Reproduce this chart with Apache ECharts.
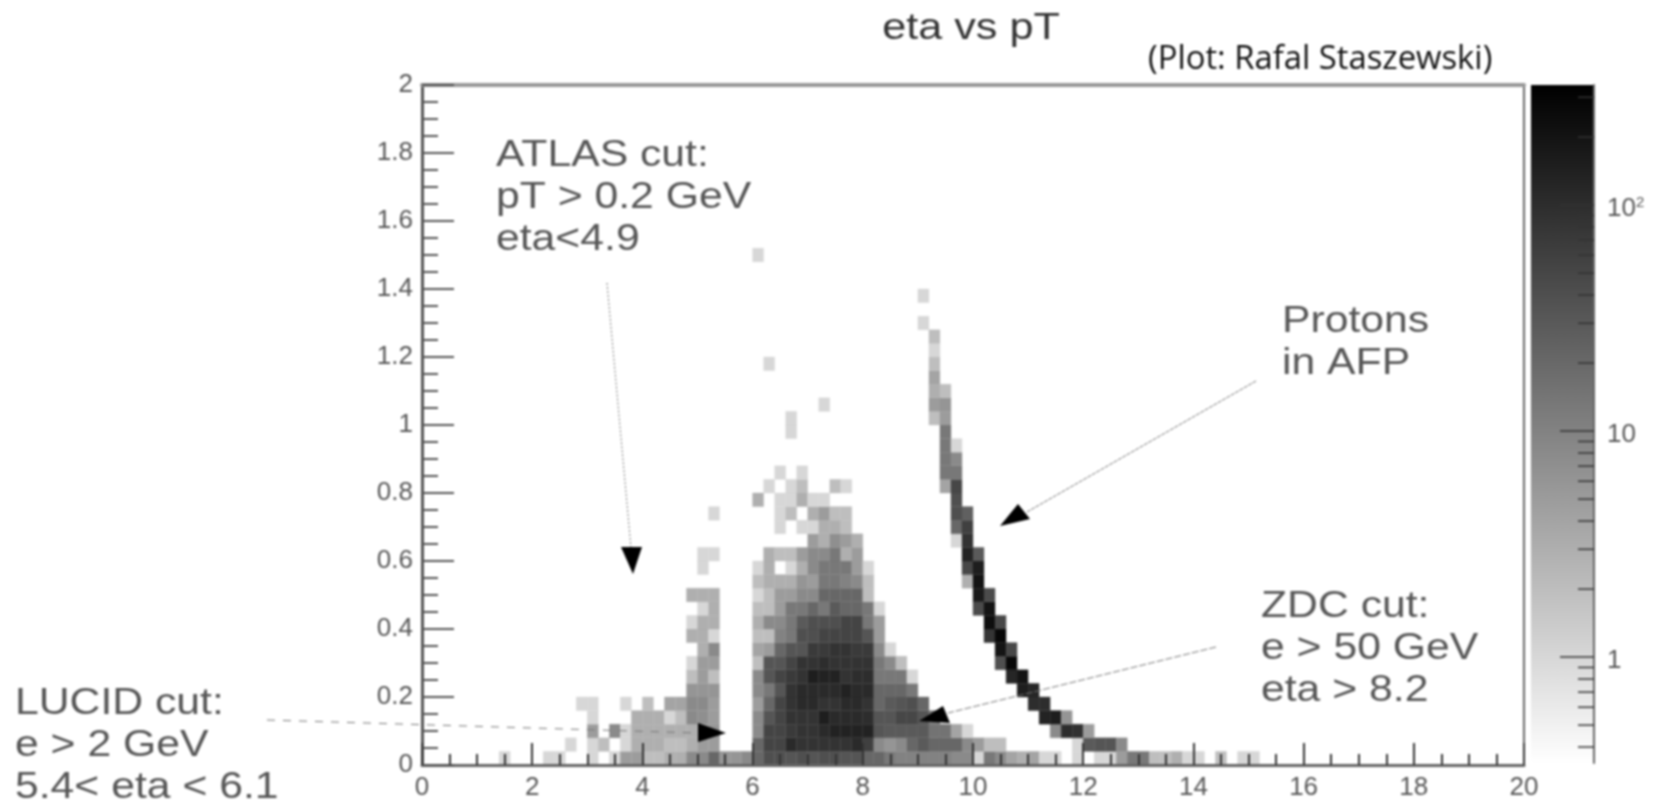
<!DOCTYPE html>
<html><head><meta charset="utf-8">
<style>html,body{margin:0;padding:0;background:#fff}#c{width:1658px;height:801px;filter:blur(0.8px)}</style>
<script src="https://cdn.jsdelivr.net/npm/echarts@6/dist/echarts.min.js"></script>
</head><body><div id="c"></div>
<script>
// Bin size of the 2D histogram
const binX = 0.2, binY = 0.04;
// Each row is one y-bin: pairs of [x-bin index, count]
const row00=[[7,1],[11,1],[12,1],[15,1],[17,1],[18,5],[19,5],[20,2],[21,2],[22,3],[23,3],[24,8],[25,8],[26,21],[27,6],[28,6],[29,8],[30,21],[31,40],[32,40],[33,34],[34,40],[35,34],[36,40],[37,40],[38,34],[39,34],[40,21],[41,21],[42,13],[43,10],[44,10],[45,10],[46,10],[47,10],[48,8],[49,8],[50,1],[51,13],[52,8],[53,4],[54,3],[55,4],[56,1],[57,1],[59,1],[61,1],[62,1],[63,5],[64,13],[65,13],[66,2],[67,2],[68,3],[69,1],[70,1],[72,2],[74,1],[75,1]];
const row01=[[13,1],[15,1],[16,2],[18,1],[19,3],[20,3],[21,3],[22,2],[23,2],[24,3],[25,5],[26,5],[30,21],[31,54],[32,54],[33,109],[34,85],[35,85],[36,85],[37,85],[38,85],[39,109],[40,60],[41,8],[42,6],[43,8],[44,21],[45,30],[46,21],[47,21],[48,21],[49,8],[50,5],[51,2],[52,2],[59,1],[60,30],[61,34],[62,34],[63,8]];
const row02=[[15,5],[17,8],[18,1],[19,3],[20,3],[21,3],[22,3],[23,3],[24,3],[25,5],[26,6],[30,8],[31,54],[32,54],[33,70],[34,85],[35,85],[36,109],[37,137],[38,137],[39,137],[40,137],[41,34],[42,30],[43,30],[44,30],[45,30],[46,15],[47,15],[48,4],[49,1],[57,8],[58,100],[59,90],[60,5]];
const row03=[[15,1],[19,3],[20,3],[21,3],[22,1],[23,2],[24,8],[25,7],[26,5],[30,8],[31,34],[32,54],[33,85],[34,85],[35,85],[36,151],[37,109],[38,109],[39,109],[40,100],[41,34],[42,34],[43,50],[44,50],[45,34],[46,13],[56,130],[57,150],[58,6]];
const row04=[[14,1],[15,1],[18,1],[20,2],[22,4],[23,4],[24,8],[25,8],[26,5],[30,5],[31,21],[32,54],[33,85],[34,109],[35,109],[36,85],[37,85],[38,109],[39,109],[40,85],[41,21],[42,30],[43,34],[44,40],[45,21],[55,100],[56,100]];
const row05=[[24,6],[25,6],[26,6],[30,8],[31,13],[32,34],[33,85],[34,109],[35,109],[36,109],[37,109],[38,137],[39,109],[40,109],[41,21],[42,21],[43,21],[44,13],[54,150],[55,120]];
const row06=[[24,2],[25,5],[26,2],[30,8],[31,34],[32,54],[33,70],[34,85],[35,151],[36,137],[37,137],[38,85],[39,100],[40,100],[41,13],[42,13],[43,13],[44,1],[53,120],[54,200]];
const row07=[[24,1],[25,5],[26,5],[30,2],[31,34],[32,34],[33,54],[34,85],[35,85],[36,100],[37,85],[38,85],[39,85],[40,85],[41,13],[42,8],[43,2],[52,40],[53,280]];
const row08=[[25,3],[26,8],[30,4],[31,5],[32,21],[33,34],[34,34],[35,70],[36,70],[37,85],[38,85],[39,70],[40,70],[41,8],[42,1],[52,200],[53,50]];
const row09=[[24,3],[25,3],[26,1],[30,2],[31,2],[32,10],[33,13],[34,40],[35,40],[36,54],[37,54],[38,54],[39,54],[40,34],[41,5],[51,80],[52,280]];
const row10=[[24,1],[25,3],[26,3],[30,3],[31,8],[32,8],[33,13],[34,30],[35,40],[36,40],[37,40],[38,54],[39,54],[40,13],[41,5],[51,230],[52,50]];
const row11=[[25,1],[26,3],[30,2],[31,2],[32,5],[33,13],[34,13],[35,21],[36,13],[37,30],[38,21],[39,21],[40,13],[41,1],[50,45],[51,200]];
const row12=[[24,3],[25,3],[26,3],[30,1],[31,2],[32,5],[33,5],[34,8],[35,8],[36,21],[37,21],[38,21],[39,21],[40,2],[50,170],[51,45]];
const row13=[[30,2],[31,3],[32,3],[33,3],[34,6],[35,5],[36,13],[37,13],[38,10],[39,8],[40,2],[49,3],[50,200]];
const row14=[[25,1],[30,1],[31,3],[33,1],[34,3],[35,8],[36,13],[37,13],[38,13],[39,5],[40,1],[49,50],[50,150]];
const row15=[[25,1],[26,1],[31,3],[32,2],[33,2],[34,5],[35,8],[36,8],[37,13],[38,3],[39,5],[49,130],[50,30]];
const row16=[[35,5],[36,3],[37,7],[38,5],[39,3],[48,1],[49,85]];
const row17=[[32,1],[34,1],[35,1],[36,3],[37,3],[38,2],[48,21],[49,60]];
const row18=[[26,1],[32,1],[33,2],[35,3],[36,5],[37,2],[38,2],[48,40],[49,25]];
const row19=[[30,3],[32,1],[33,1],[34,3],[35,1],[36,1],[48,40]];
const row20=[[31,1],[33,1],[34,2],[37,2],[38,1],[47,4],[48,50]];
const row21=[[32,1],[34,1],[47,13],[48,13]];
const row22=[[47,13],[48,8]];
const row23=[[47,13],[48,1]];
const row24=[[33,1],[47,13]];
const row25=[[33,1],[46,2],[47,5]];
const row26=[[36,1],[46,5],[47,6]];
const row27=[[46,3],[47,2]];
const row28=[[46,4]];
const row29=[[31,1],[46,2]];
const row30=[[46,1]];
const row31=[[46,2]];
const row32=[[45,1]];
const row33=[];
const row34=[[45,1]];
const row35=[];
const row36=[];
const row37=[[30,1]];
const rows=[row00,row01,row02,row03,row04,row05,row06,row07,row08,row09,row10,row11,row12,row13,row14,row15,row16,row17,row18,row19,row20,row21,row22,row23,row24,row25,row26,row27,row28,row29,row30,row31,row32,row33,row34,row35,row36,row37];

// Colour scale range (log z) and its ticks
const zMin=0.34, zMax=340;
const zMajorTicks=[1,10,100];
const zMinorTicks=[0.4,0.5,0.6,0.7,0.8,0.9,2,3,4,5,6,7,8,9,20,30,40,50,60,70,80,90,200,300];
// Axis ticks
const xTickLabels=['0','2','4','6','8','10','12','14','16','18','20'];
const yTickLabels=['0','0.2','0.4','0.6','0.8','1','1.2','1.4','1.6','1.8','2'];

const titleText='eta vs pT', creditText='(Plot: Rafal Staszewski)';
const notes=[
 {lines:['ATLAS cut:','pT > 0.2 GeV','eta<4.9'],x:496,y:167},
 {lines:['Protons','in AFP'],x:1282,y:333},
 {lines:['ZDC cut:','e > 50 GeV','eta > 8.2'],x:1261,y:618},
 {lines:['LUCID cut:','e > 2 GeV','5.4< eta < 6.1'],x:15,y:715}
];
const arrows=[
 {from:[607,283],to:[631,548],head:[[633,574],[621,547],[642,547]],dash:[2,2]},
 {from:[1256,381],to:[1027,512],head:[[1000,526],[1018,504],[1030,519]],dash:[4,1]},
 {from:[1216,647],to:[948,713],head:[[919,721],[943,706],[950,723]],dash:[7,2]},
 {from:[267,720],to:[698,733],head:[[726,733],[698,723],[698,742]],dash:[8,8]}
];

const cells=rows.flatMap((r,j)=>r.map(([i,v])=>[i*binX,j*binY,v]));
function grey(v){
  const t=(Math.log10(v)-Math.log10(zMin))/(Math.log10(zMax)-Math.log10(zMin));
  const g=Math.round(255*(1-Math.max(0,Math.min(1,t))));
  return 'rgb('+g+','+g+','+g+')';
}
const FONT='"Liberation Sans", Arial, sans-serif';
const TXT='#565656';

const graphics=[];
notes.forEach(n=>n.lines.forEach((t,k)=>graphics.push({type:'text',z:20,x:n.x,y:n.y-30+k*42.4,scaleX:1.17,
  style:{text:t,fill:TXT,font:'36.5px '+FONT}})));
arrows.forEach(a=>{
  graphics.push({type:'line',z:20,shape:{x1:a.from[0],y1:a.from[1],x2:a.to[0],y2:a.to[1]},style:{stroke:'#777',lineWidth:1,lineDash:a.dash}});
  graphics.push({type:'polygon',z:21,shape:{points:a.head},style:{fill:'#000'}});
});
graphics.push({type:'text',z:20,x:971,y:29,scaleX:1.2,style:{text:titleText,fill:'#333',font:'36px '+FONT,align:'center',verticalAlign:'middle'}});
graphics.push({type:'text',z:20,x:1148,y:60,style:{text:creditText,fill:'#111',font:'32.8px "Open Sans", sans-serif',verticalAlign:'middle'}});

const chart=echarts.init(document.getElementById('c'));
chart.setOption({
  animation:false,
  backgroundColor:'#fff',
  graphic:{elements:graphics},
  grid:[
    {left:422,right:134,top:85,bottom:36,show:true,borderColor:'#666',borderWidth:2,backgroundColor:'#fff'},
    {left:1531,right:64,top:85,bottom:38}
  ],
  xAxis:[
    {gridIndex:0,type:'value',min:0,max:20,interval:2,z:5,splitLine:{show:false},
     axisLine:{show:true,onZero:false,lineStyle:{color:'#666',width:3}},
     axisTick:{inside:true,length:22,lineStyle:{color:'#333',width:2}},
     minorTick:{show:true,splitNumber:4,length:11,lineStyle:{color:'#333',width:2}},
     axisLabel:{color:TXT,fontSize:26,fontFamily:FONT,margin:10,formatter:v=>xTickLabels[Math.round(v/2)]}},
    {gridIndex:0,type:'value',position:'top',min:0,max:20,show:true,z:5,
     axisLine:{show:true,onZero:false,lineStyle:{color:'#999',width:4}},axisTick:{show:false},axisLabel:{show:false},splitLine:{show:false}},
    {gridIndex:1,type:'value',min:0,max:1,show:false}
  ],
  yAxis:[
    {gridIndex:0,type:'value',min:0,max:2,interval:0.2,z:5,splitLine:{show:false},
     axisLine:{show:true,onZero:false,lineStyle:{color:'#555',width:3}},
     axisTick:{inside:true,length:32,lineStyle:{color:'#555',width:2}},
     minorTick:{show:true,splitNumber:4,length:16,lineStyle:{color:'#555',width:2}},
     axisLabel:{color:TXT,fontSize:26,fontFamily:FONT,margin:9,padding:[4,0,0,0],formatter:v=>yTickLabels[Math.round(v/0.2)]}},
    {gridIndex:1,type:'log',logBase:10,min:zMin,max:zMax,position:'right',z:5,splitLine:{show:false},
     axisLine:{show:true,onZero:false,lineStyle:{color:'#666',width:2}},
     axisTick:{show:true,inside:true,length:34,customValues:zMajorTicks,lineStyle:{color:'#333',width:1.5}},
     minorTick:{show:false},
     axisLabel:{show:true,customValues:zMajorTicks,color:TXT,fontSize:26,fontFamily:FONT,margin:13,padding:[7,0,0,0],
       formatter:v=>Math.round(v)===100?'{a|10}{b|2}':String(Math.round(v)),
       rich:{a:{color:TXT,fontSize:26,fontFamily:FONT},b:{color:TXT,fontSize:15,fontFamily:FONT,padding:[0,0,11,0]}}}}
  ],
  series:[
    {type:'custom',name:'counts',xAxisIndex:0,yAxisIndex:0,z:2,silent:true,data:cells,encode:{x:0,y:1},clip:true,
     renderItem:(p,api)=>{
       const x=api.value(0),y=api.value(1);
       const a=api.coord([x,y+binY]),b=api.coord([x+binX,y]);
       return {type:'rect',shape:{x:a[0],y:a[1],width:b[0]-a[0],height:b[1]-a[1]},style:{fill:grey(api.value(2)),stroke:grey(api.value(2)),lineWidth:0.3}};
     }},
    {type:'custom',name:'palette',xAxisIndex:2,yAxisIndex:1,z:2,silent:true,data:[[0,zMin]],encode:{x:0,y:1},
     renderItem:(p,api)=>{
       const a=api.coord([0,zMax]),b=api.coord([1,zMin]);
       return {type:'rect',shape:{x:a[0],y:a[1],width:b[0]-a[0],height:b[1]-a[1]},
         style:{fill:new echarts.graphic.LinearGradient(0,0,0,1,[{offset:0,color:'#000'},{offset:1,color:'#fff'}])}};
     }},
    {type:'custom',name:'zMinorTicks',xAxisIndex:2,yAxisIndex:1,z:6,silent:true,data:zMinorTicks.map(v=>[1,v]),encode:{x:0,y:1},
     renderItem:(p,api)=>{
       const c=api.coord([1,api.value(1)]);
       return {type:'line',shape:{x1:c[0]-16,y1:c[1],x2:c[0],y2:c[1]},style:{stroke:'#333',lineWidth:1.5}};
     }}
  ]
});
</script></body></html>
